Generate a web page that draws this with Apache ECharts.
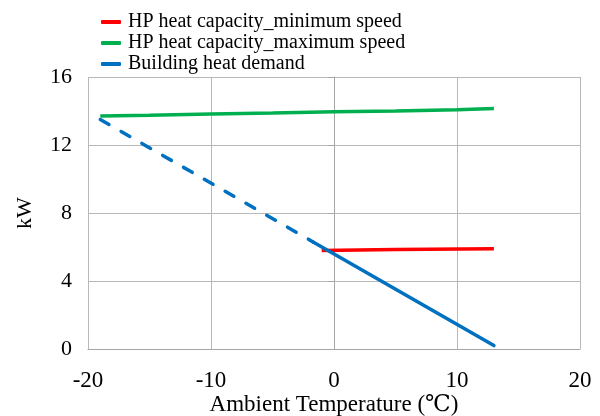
<!DOCTYPE html>
<html>
<head>
<meta charset="utf-8">
<script src="https://cdn.jsdelivr.net/npm/echarts@6/dist/echarts.min.js"></script>
<style>
  html, body { margin: 0; padding: 0; background: #fff; }
  #chart { width: 600px; height: 416px; }
</style>
</head>
<body>
<div id="chart"></div>
<script>
// values (x = ambient temperature in °C, y = kW)
var minSpeedT = [-1, 5, 13];
var minSpeedKW = [5.8, 5.85, 5.9];

var maxSpeedT = [-19, -15, -10, -5, 0, 5, 10, 13];
var maxSpeedKW = [13.7, 13.75, 13.82, 13.88, 13.95, 14.0, 14.08, 14.15];

// building demand: dashed part below the balance point, solid part above
var demandDashT = [-19, -1.7];
var demandDashKW = [13.5, 6.3];
var demandSolidT = [-1.7, 13];
var demandSolidKW = [6.3, 0.2];

var xTicks = [-20, -10, 0, 10, 20];
var yTicks = [0, 4, 8, 12, 16];

function pairs(xs, ys) {
  return xs.map(function (x, i) { return [x, ys[i]]; });
}

var font = "'Liberation Serif', 'DejaVu Serif', serif";
var chart = echarts.init(document.getElementById('chart'));

chart.setOption({
  animation: false,
  textStyle: { fontFamily: font },
  grid: { left: 88, right: 20, top: 77, bottom: 67, outerBoundsMode: 'none', containLabel: false },
  legend: {
    orient: 'vertical',
    left: 96,
    top: 7,
    itemGap: 1,
    itemWidth: 20,
    itemHeight: 4,
    icon: 'roundRect',
    data: ['HP heat capacity_minimum speed', 'HP heat capacity_maximum speed', 'Building heat demand'],
    textStyle: { fontFamily: font, fontSize: 20, color: '#000', padding: [0, 0, 0, 2] }
  },
  xAxis: {
    type: 'value',
    min: xTicks[0],
    max: xTicks[xTicks.length - 1],
    interval: 10,
    name: 'Ambient Temperature (\u2103)',
    nameLocation: 'middle',
    nameGap: 44,
    nameMoveOverlap: false,
    nameTextStyle: { fontFamily: font, fontSize: 23, color: '#000' },
    axisLine: { show: true, lineStyle: { color: '#a6a6a6', width: 1 } },
    axisTick: { show: false },
    axisLabel: { fontFamily: font, fontSize: 23, color: '#000', margin: 20 },
    splitLine: { show: true, lineStyle: { color: '#b8b8b8', width: 1 } }
  },
  yAxis: {
    type: 'value',
    min: yTicks[0],
    max: yTicks[yTicks.length - 1],
    interval: 4,
    name: 'kW',
    nameLocation: 'middle',
    nameGap: 52,
    nameMoveOverlap: false,
    nameTextStyle: { fontFamily: font, fontSize: 22, color: '#000' },
    axisLine: { show: true, lineStyle: { color: '#a6a6a6', width: 1 } },
    axisTick: { show: true, length: 6, lineStyle: { color: '#a6a6a6' } },
    axisLabel: { fontFamily: font, fontSize: 22, color: '#000', margin: 16 },
    splitLine: { show: true, lineStyle: { color: '#b8b8b8', width: 1 } }
  },
  series: [
    {
      name: 'HP heat capacity_minimum speed',
      type: 'line',
      symbol: 'none',
      itemStyle: { color: '#ff0000' },
      lineStyle: { color: '#ff0000', width: 3.5 },
      data: pairs(minSpeedT, minSpeedKW),
      z: 3
    },
    {
      name: 'HP heat capacity_maximum speed',
      type: 'line',
      symbol: 'none',
      itemStyle: { color: '#00b050' },
      lineStyle: { color: '#00b050', width: 3.5 },
      data: pairs(maxSpeedT, maxSpeedKW)
    },
    {
      name: 'Building heat demand',
      type: 'line',
      symbol: 'none',
      itemStyle: { color: '#0070c0' },
      lineStyle: { color: '#0070c0', width: 3.5, cap: 'round' },
      data: pairs(demandSolidT, demandSolidKW),
      z: 4
    },
    {
      name: 'Building heat demand (below balance point)',
      type: 'line',
      symbol: 'none',
      itemStyle: { color: '#0070c0' },
      lineStyle: { color: '#0070c0', width: 3.5, type: [10, 14], cap: 'round' },
      data: pairs(demandDashT, demandDashKW)
    }
  ]
});
</script>
</body>
</html>
